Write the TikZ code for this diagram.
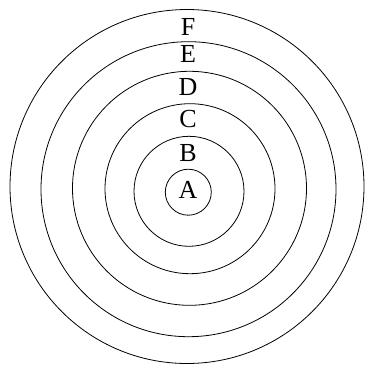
\documentclass[tikz,border=0pt]{standalone}
\usepackage{fontspec}
\setmainfont{Liberation Serif}
\usetikzlibrary{positioning}

\begin{document}
\begin{tikzpicture}[
    x=1pt, y=-1pt,
    ring/.style={circle, draw=black, line width=0.8pt, inner sep=0pt},
    ringlabel/.style={font=\fontsize{26}{30}\selectfont, inner sep=0pt, anchor=base}
]
    \useasboundingbox (0,0) rectangle (365,365);

    % Rings, inner to outer
    \node[ring, minimum size=46pt]  (ringA) at (188.3, 192.2) {};
    \node[ring, minimum size=110pt] (ringB) at (189.0, 191.3) {};
    \node[ring, minimum size=170pt] (ringC) at (190.0, 188.7) {};
    \node[ring, minimum size=234pt] (ringD) at (189.5, 188.3) {};
    \node[ring, minimum size=295pt] (ringE) at (188.5, 189.2) {};
    \node[ring, minimum size=354pt] (ringF) at (187.0, 186.5) {};

    % Labels
    \node[ringlabel] (labA) at (188, 198) {A};
    \node[ringlabel] (labB) at (188, 161.5) {B};
    \node[ringlabel] (labC) at (188, 127) {C};
    \node[ringlabel] (labD) at (188, 95) {D};
    \node[ringlabel] (labE) at (188, 62) {E};
    \node[ringlabel] (labF) at (188, 35) {F};
\end{tikzpicture}
\end{document}
